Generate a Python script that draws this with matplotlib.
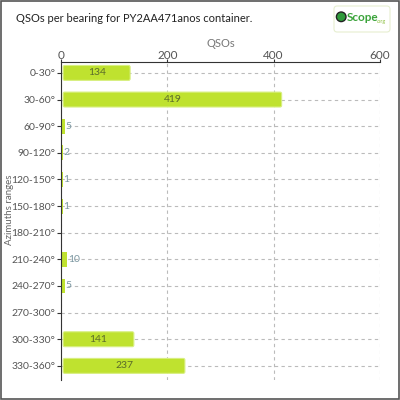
import matplotlib
matplotlib.use("Agg")
import matplotlib.pyplot as plt
from matplotlib.patches import FancyBboxPatch, Rectangle, Circle

plt.rcParams['font.family'] = ['Lato', 'DejaVu Sans']

# 方位角区间与对应的 QSO 数量
ranges = ['0-30°', '30-60°', '60-90°', '90-120°', '120-150°', '150-180°',
          '180-210°', '210-240°', '240-270°', '270-300°', '300-330°', '330-360°']
qsos = [134, 419, 5, 2, 1, 1, 0, 10, 5, 0, 141, 237]
x_ticks = [0, 200, 400, 600]

fig = plt.figure(figsize=(4, 4), dpi=100)
fig.patches.append(Rectangle((0.002, 0.002), 0.996, 0.996, transform=fig.transFigure,
                             fill=False, edgecolor='#555555', linewidth=1.2))

ax = fig.add_axes([0.1525, 0.05, 0.7975, 0.795])
ax.set_xlim(0, 600)
ax.set_ylim(11.53, -0.41)

bar_c = '#bfe22f'
for i, v in enumerate(qsos):
    if v == 0:
        continue
    if v >= 20:
        ax.add_patch(FancyBboxPatch((4, i - 0.28), v - 8, 0.56,
                                    boxstyle='round,pad=0,rounding_size=3',
                                    mutation_aspect=0.02,
                                    facecolor=bar_c, edgecolor='#d8ef80', linewidth=0.8))
        ax.text(4 + (v - 8) / 2, i, str(v), ha='center', va='center',
                fontsize=7.5, color='#5a6a2a')
    else:
        ax.barh(i, v, height=0.56, left=2, color=bar_c)
        ax.text(v + 3, i, str(v), ha='left', va='center', fontsize=7.5, color='#7a96a0')

ax.set_yticks(range(len(ranges)))
ax.set_yticklabels(ranges, fontsize=7.5, color='#555555')
ax.set_xticks(x_ticks)
ax.xaxis.tick_top()
ax.xaxis.set_label_position('top')
ax.set_xticklabels([str(t) for t in x_ticks], fontsize=8.5, color='#555555')
ax.set_xlabel('QSOs', fontsize=8, color='#777777', labelpad=2)
ax.tick_params(axis='y', length=3, color='#333333', pad=1)
ax.tick_params(axis='x', length=2, color='#333333', pad=-1)
ax.grid(True, linestyle=(0, (3, 3)), color='#bbbbbb', linewidth=0.8)
ax.set_axisbelow(True)
for s in ['right', 'bottom']:
    ax.spines[s].set_visible(False)
ax.spines['left'].set_color('#333333')
ax.spines['top'].set_color('#333333')

fig.text(0.025, 0.475, 'Azimuths ranges', rotation=90, va='center', ha='center',
         fontsize=7, color='#666666')
fig.text(0.04, 0.955, 'QSOs per bearing for PY2AA471anos container.', fontsize=8,
         color='#222222', va='center')

# 标志
fig.patches.append(FancyBboxPatch((0.835, 0.92), 0.14, 0.065, transform=fig.transFigure,
                                  boxstyle='round,pad=0,rounding_size=0.008',
                                  facecolor='white', edgecolor='#e6eed0', linewidth=0.8))
fig.patches.append(Circle((0.853, 0.958), 0.012, transform=fig.transFigure,
                          facecolor='#2e9a3a', edgecolor='#222222', linewidth=1))
fig.text(0.866, 0.956, 'Scope', fontsize=8.5, color='#3aa33a', fontweight='bold', va='center')
fig.text(0.966, 0.947, '.org', fontsize=4, color='#8cbf3f', va='center', ha='right')

fig.savefig('out.png', dpi=100)
